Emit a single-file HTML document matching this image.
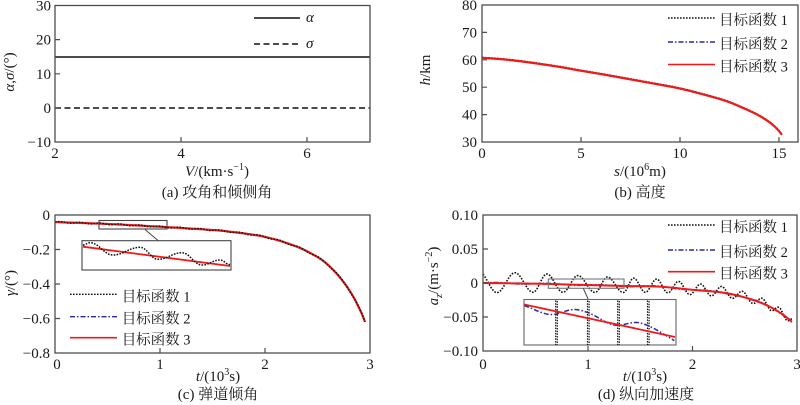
<!DOCTYPE html>
<html><head><meta charset="utf-8">
<style>
html,body{margin:0;padding:0;background:#fff}
svg{display:block}
text{font-family:"Liberation Serif","Noto Serif CJK SC",serif;fill:#1a1a1a;font-size:15px}
.lg{font-size:14.5px}
</style></head><body>
<svg id="svg" width="800" height="405" viewBox="0 0 800 405" xmlns="http://www.w3.org/2000/svg">
<rect width="800" height="405" fill="#fff"/>

<!-- ===== (a) ===== -->
<line x1="55" y1="57" x2="370" y2="57" stroke="#111" stroke-width="1.5"/>
<line x1="55" y1="108" x2="370" y2="108" stroke="#111" stroke-width="1.4" stroke-dasharray="6 3.5"/>
<rect x="55" y="5.5" width="315" height="136.5" fill="none" stroke="#4d4d4d" stroke-width="1.3"/>
<path d="M55,39.6h5M55,73.8h5M55,108h5M181,142v-5M307,142v-5" stroke="#4d4d4d" stroke-width="1.2"/>
<g text-anchor="end">
<text x="51" y="10.5">30</text><text x="51" y="44.6">20</text><text x="51" y="78.8">10</text><text x="51" y="113">0</text><text x="51" y="147">−10</text>
</g>
<g text-anchor="middle">
<text x="55" y="158">2</text><text x="181" y="158">4</text><text x="307" y="158">6</text>
<text x="217" y="176"><tspan font-style="italic">V</tspan>/(km·s<tspan font-size="10" dy="-6">−1</tspan><tspan dy="6">)</tspan></text>
<text x="217" y="197">(a) 攻角和倾侧角</text>
</g>
<text transform="translate(14,72) rotate(-90)" text-anchor="middle"><tspan font-style="italic">α</tspan>,<tspan font-style="italic">σ</tspan>/(°)</text>
<line x1="254" y1="18" x2="300" y2="18" stroke="#111" stroke-width="1.5"/>
<line x1="254" y1="44" x2="300" y2="44" stroke="#111" stroke-width="1.4" stroke-dasharray="6 3.5"/>
<text x="306" y="22" font-style="italic">α</text>
<text x="306" y="48" font-style="italic">σ</text>

<!-- ===== (b) ===== -->
<g id="gb"></g>
<rect x="482" y="5" width="316" height="137" fill="none" stroke="#4d4d4d" stroke-width="1.3"/>
<path d="M482,32.4h5M482,59.8h5M482,87.2h5M482,114.6h5M581,142v-5M680,142v-5M779,142v-5" stroke="#4d4d4d" stroke-width="1.2"/>
<g text-anchor="end">
<text x="477" y="10">80</text><text x="477" y="37.4">70</text><text x="477" y="64.8">60</text><text x="477" y="92.2">50</text><text x="477" y="119.6">40</text><text x="477" y="147">30</text>
</g>
<g text-anchor="middle">
<text x="482" y="158">0</text><text x="581" y="158">5</text><text x="680" y="158">10</text><text x="779" y="158">15</text>
<text x="640" y="176"><tspan font-style="italic">s</tspan>/(10<tspan font-size="10" dy="-6">6</tspan><tspan dy="6">m)</tspan></text>
<text x="640" y="197">(b) 高度</text>
</g>
<text transform="translate(430,70) rotate(-90)" text-anchor="middle"><tspan font-style="italic">h</tspan>/km</text>
<line x1="668" y1="18" x2="715" y2="18" stroke="#111" stroke-width="1.4" stroke-dasharray="1.6 1.4"/>
<line x1="668" y1="42" x2="715" y2="42" stroke="#2a2a9a" stroke-width="1.4" stroke-dasharray="5 2 1.5 2"/>
<line x1="668" y1="64.5" x2="715" y2="64.5" stroke="#f01818" stroke-width="1.6"/>
<text class="lg" x="719" y="25">目标函数 1</text>
<text class="lg" x="719" y="49">目标函数 2</text>
<text class="lg" x="719" y="71.5">目标函数 3</text>

<!-- ===== (c) ===== -->
<g id="gc"></g>
<rect x="55" y="215" width="315" height="138" fill="none" stroke="#4d4d4d" stroke-width="1.3"/>
<path d="M55,249.5h5M55,284h5M55,318.5h5M160,353v-5M265,353v-5" stroke="#4d4d4d" stroke-width="1.2"/>
<g text-anchor="end">
<text x="50" y="220">0</text><text x="50" y="254.5">−0.2</text><text x="50" y="289">−0.4</text><text x="50" y="323.5">−0.6</text><text x="50" y="358">−0.8</text>
</g>
<g text-anchor="middle">
<text x="57" y="369">0</text><text x="160" y="369">1</text><text x="265" y="369">2</text><text x="370" y="369">3</text>
<text x="218" y="381"><tspan font-style="italic">t</tspan>/(10<tspan font-size="10" dy="-6">3</tspan><tspan dy="6">s)</tspan></text>
<text x="218" y="399">(c) 弹道倾角</text>
</g>
<text transform="translate(15,283) rotate(-90)" text-anchor="middle"><tspan font-style="italic">γ</tspan>/(°)</text>
<rect x="99" y="220.5" width="68" height="8.5" fill="none" stroke="#444" stroke-width="1.1"/>
<line x1="145" y1="229.5" x2="158.3" y2="240.7" stroke="#444" stroke-width="1"/>
<rect x="82" y="240.7" width="149" height="29.3" fill="#fff" stroke="#444" stroke-width="1.1"/>
<g id="gci"></g>
<line x1="70" y1="294.3" x2="117" y2="294.3" stroke="#111" stroke-width="1.4" stroke-dasharray="1.6 1.4"/>
<line x1="70" y1="316.7" x2="117" y2="316.7" stroke="#2a2a9a" stroke-width="1.4" stroke-dasharray="5 2 1.5 2"/>
<line x1="70" y1="337.7" x2="117" y2="337.7" stroke="#f01818" stroke-width="1.6"/>
<text class="lg" x="121.7" y="301.3">目标函数 1</text>
<text class="lg" x="121.7" y="323.7">目标函数 2</text>
<text class="lg" x="121.7" y="344.7">目标函数 3</text>

<!-- ===== (d) ===== -->
<g id="gd"></g>
<rect x="483" y="215" width="314" height="136" fill="none" stroke="#4d4d4d" stroke-width="1.3"/>
<path d="M483,249h5M483,283h5M483,317h5M588,351v-5M692.5,351v-5" stroke="#4d4d4d" stroke-width="1.2"/>
<g text-anchor="end">
<text x="478" y="220">0.10</text><text x="478" y="254">0.05</text><text x="478" y="288">0</text><text x="478" y="322">−0.05</text><text x="478" y="356">−0.10</text>
</g>
<g text-anchor="middle">
<text x="483" y="369">0</text><text x="588" y="369">1</text><text x="692.5" y="369">2</text><text x="797" y="369">3</text>
<text x="645" y="381"><tspan font-style="italic">t</tspan>/(10<tspan font-size="10" dy="-6">3</tspan><tspan dy="6">s)</tspan></text>
<text x="646" y="399">(d) 纵向加速度</text>
</g>
<text transform="translate(438,276) rotate(-90)" text-anchor="middle"><tspan font-style="italic">a</tspan><tspan font-style="italic" font-size="10" dy="4">z</tspan><tspan dy="-4">/(m·s</tspan><tspan font-size="10" dy="-6">−2</tspan><tspan dy="6">)</tspan></text>
<rect x="548.3" y="279" width="75.7" height="9.3" fill="none" stroke="#777" stroke-width="1.1"/>
<line x1="583.3" y1="288.3" x2="588.3" y2="299.5" stroke="#444" stroke-width="1"/>
<rect x="524" y="299.5" width="152" height="45.5" fill="#fff" stroke="#666" stroke-width="1.1"/>
<g id="gdi"></g>
<line x1="668" y1="225" x2="715" y2="225" stroke="#111" stroke-width="1.4" stroke-dasharray="1.6 1.4"/>
<line x1="668" y1="250" x2="715" y2="250" stroke="#2a2a9a" stroke-width="1.4" stroke-dasharray="5 2 1.5 2"/>
<line x1="668" y1="271.7" x2="715" y2="271.7" stroke="#f01818" stroke-width="1.6"/>
<text class="lg" x="719" y="232">目标函数 1</text>
<text class="lg" x="719" y="257">目标函数 2</text>
<text class="lg" x="719" y="278.7">目标函数 3</text>
</svg>

<script>
(function(){
var NS='http://www.w3.org/2000/svg';
function add(gid,d,attrs){var g=document.getElementById(gid);var p=document.createElementNS(NS,'path');p.setAttribute('d',d);p.setAttribute('fill','none');for(var k in attrs)p.setAttribute(k,attrs[k]);g.appendChild(p);}
function spline(K){
 var n=K.length,m=[];
 for(var i=0;i<n;i++){
  if(i==0)m[i]=(K[1][1]-K[0][1])/(K[1][0]-K[0][0]);
  else if(i==n-1)m[i]=(K[n-1][1]-K[n-2][1])/(K[n-1][0]-K[n-2][0]);
  else m[i]=(K[i+1][1]-K[i-1][1])/(K[i+1][0]-K[i-1][0]);
 }
 return function(x){
  var i=0;while(i<n-2&&x>K[i+1][0])i++;
  var h=K[i+1][0]-K[i][0],t=(x-K[i][0])/h,t2=t*t,t3=t2*t;
  return (2*t3-3*t2+1)*K[i][1]+(t3-2*t2+t)*h*m[i]+(-2*t3+3*t2)*K[i+1][1]+(t3-t2)*h*m[i+1];
 };
}
function P(pts){var s='';for(var i=0;i<pts.length;i++){s+=(i?'L':'M')+pts[i][0].toFixed(2)+','+pts[i][1].toFixed(2);}return s;}
function ext(pts){var s='M'+pts[0][0]+','+pts[0][1];for(var i=1;i<pts.length;i++){var a=pts[i-1],b=pts[i],dx=b[0]-a[0];s+='C'+(a[0]+0.4*dx)+','+a[1]+' '+(b[0]-0.4*dx)+','+b[1]+' '+b[0]+','+b[1];}return s;}
var BLK={stroke:'#111','stroke-width':'1.4','stroke-dasharray':'1.6 1.4'};
var BLU={stroke:'#2a2a9a','stroke-width':'1.4','stroke-dasharray':'5 2 1.5 2'};

/* (b) */
var hb=spline([[0,60.7],[1,60.2],[2,59.4],[3,58.4],[4,57.3],[5,56.0],[6,54.8],[7,53.5],[8,52.2],[9,50.9],[10,49.5],[11,47.7],[12,45.7],[12.5,44.5],[13,43.0],[13.5,41.4],[14,39.6],[14.5,37.3],[14.8,35.5],[15,34.0],[15.15,32.6]]);
var pb=[],pbb=[];
for(var s=0;s<=15.1501;s+=0.03){var x=482+s*19.8,y=142-(hb(s)-30)*2.74;pb.push([x,y]);pbb.push([x,y-0.6]);}
add('gb',P(pbb),BLK);add('gb',P(pb),BLU);add('gb',P(pb),{stroke:'#f01818','stroke-width':'2.2','stroke-linejoin':'round'});

/* (c) */
var gc=spline([[0,-0.041],[0.5,-0.052],[1,-0.068],[1.5,-0.087],[1.67,-0.097],[2,-0.127],[2.3,-0.183],[2.5,-0.244],[2.62,-0.30],[2.75,-0.39],[2.84,-0.473],[2.92,-0.57],[2.952,-0.619]]);
var pc=[],pcb=[];
for(var t=0;t<=2.9521;t+=0.004){var x=55+t*105,g=gc(t);pc.push([x,215-g*172.5]);pcb.push([x,215-(g+0.004*Math.sin(2*Math.PI*t/0.19))*172.5]);}
add('gc',P(pc),BLU);add('gc',P(pc),{stroke:'#f01818','stroke-width':'2.2','stroke-linejoin':'round'});add('gc',P(pcb),BLK);
/* (c) inset */
add('gci','M83,246.7L230,266',{stroke:'#f01818','stroke-width':'1.8'});
add('gci',ext([[83,245],[90,242.7],[113,255],[140,247.3],[158,259.3],[182,252.7],[202,265],[220,260],[230,264.5]]),{stroke:'#111','stroke-width':'1.5','stroke-dasharray':'1.6 1.3'});

/* (d) */
var rd=spline([[0,0],[0.5,-0.001],[1,-0.003],[1.4,-0.0045],[1.7,-0.0055],[2,-0.010],[2.33,-0.015],[2.58,-0.025],[2.74,-0.035],[2.87,-0.047],[2.95,-0.057]]);
var E=[0.134,0.306,0.478,0.611,0.764,0.907,1.07,1.19,1.34,1.44,1.55,1.66,1.765,1.87,1.975,2.08,2.18,2.28,2.38,2.48,2.575,2.67,2.75,2.83,2.9];
function phi(t){
 if(t<E[0])return (t-E[0])/(E[1]-E[0])*Math.PI;
 for(var k=0;k<E.length-1;k++){if(t<E[k+1])return (k+(t-E[k])/(E[k+1]-E[k]))*Math.PI;}
 var L=E.length-1;return (L+(t-E[L])/(E[L]-E[L-1]))*Math.PI;
}
var pd=[],pdb=[],pdu=[];
for(var t=0;t<=2.9501;t+=0.002){
 var x=483+t*104.7,r=rd(t),A=0.0155-0.0035*t;
 pd.push([x,283-r*680]);
 pdb.push([x,283-(r+0.0012-A*Math.cos(phi(t)))*680]);
 pdu.push([x,283-(r+0.001*Math.sin(2*Math.PI*t/0.5))*680]);
}
add('gd',P(pdb),{stroke:'#111','stroke-width':'1.6','stroke-dasharray':'1.6 1.4'});
add('gd',P(pdu),BLU);
add('gd',P(pd),{stroke:'#f01818','stroke-width':'2','stroke-linejoin':'round'});
/* (d) inset */
var xs=[556.5,588.3,618.5,648.3];
for(var i=0;i<xs.length;i++){
 add('gdi','M'+(xs[i]-0.8)+',300.5V345',{stroke:'#111','stroke-width':'1.2','stroke-dasharray':'1.5 1.2'});
 add('gdi','M'+(xs[i]+0.8)+',301V345',{stroke:'#111','stroke-width':'1.2','stroke-dasharray':'1.5 1.2'});
}
var bi=spline([[524.3,305.5],[550,314.5],[574,309.5],[590,313.5],[614,325],[637,322.5],[652,327.5],[675,341]]);
var pbi=[];for(var x=524.3;x<=675.01;x+=1){pbi.push([x,bi(x)]);}
add('gdi',P(pbi),{stroke:'#2a2a9a','stroke-width':'1.5','stroke-dasharray':'5 2 1.5 2'});
add('gdi','M524.3,304.5L675,337',{stroke:'#f01818','stroke-width':'1.8'});
})();
</script>
</body></html>
